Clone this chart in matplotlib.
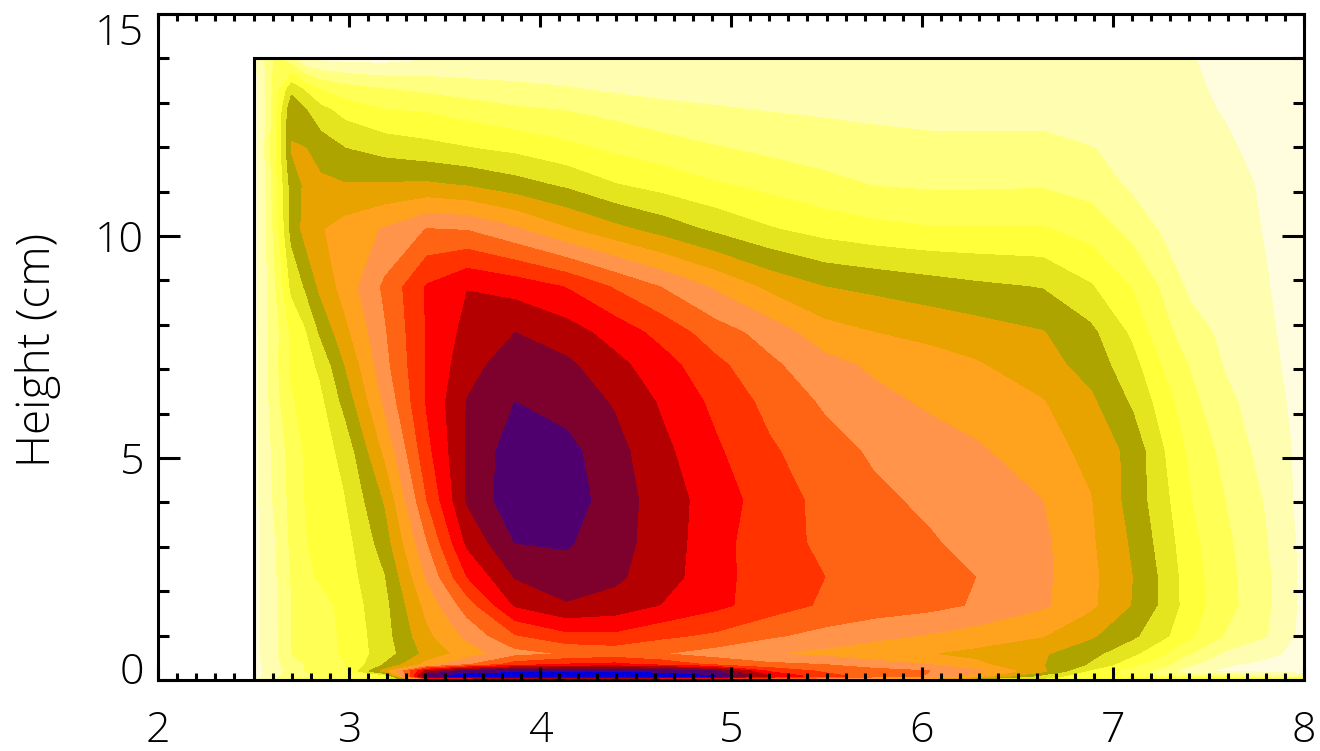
import numpy as np
import matplotlib
matplotlib.use("Agg")
import matplotlib.pyplot as plt
from matplotlib.transforms import ScaledTranslation

plt.rcParams['font.family'] = ['Open Sans', 'DejaVu Sans']
plt.rcParams['font.weight'] = 'light'

radius = [2.5,2.56,2.61,2.70,2.77,2.85,2.98,3.19,3.41,3.62,3.87,4.14,4.39,4.64,4.92,5.20,5.49,5.75,6.04,6.28,6.63,6.88,7.10,7.25,7.40,7.59,7.80,8.0]
height = [0,0.09,0.20,0.34,0.59,1.0,1.69,2.32,3.09,4.05,5.14,6.26,7.09,7.82,8.85,10.14,11.15,11.94,12.84,13.29,14.0]

z00 = [.8,1.5,2.0,3.0,3.2,3.4,4.0,4.3,8.5,8.5,8.5,8.5,8.5,8.5,8.5,8.3,8.0,7.0,6.0,5.0,4.5,4.5,4.5,4.5,4.5,4.5,4.5,4.0]
z01 = [.5,1.1,1.6,2.5,2.8,3.0,3.1,4.0,15.6,16.4,16.5,16.6,16.6,16.4,16.0,13.0,11.3,10.6,9.9,8.5,5.5,4.3,3.9,2.8,2.4,2.3,2.1,1.5]
z02 = [.5,1.1,1.4,2.5,3.0,3.2,3.8,7.4,13.3,15.4,15.7,15.8,15.8,15.6,15.05,11.8,10.8,10.4,10.0,9.2,7.2,4.7,3.45,2.6,1.35,.8,.6,.5]
z03 = [.5,1.2,1.5,2.8,3.0,3.2,3.9,6.1,8.4,9.9,11.5,12.1,12.3,11.7,10.8,10.25,10.0,9.4,9.0,8.25,7.05,5.85,4.2,3.3,2.1,1.1,.7,.5]
z04 = [.5,1.3,1.7,3.0,3.15,3.4,4.2,5.5,7.3,8.45,9.6,10.05,10.3,10.0,9.5,9.0,8.7,8.4,8.0,7.7,7.1,6.3,5.2,4.15,3.0,1.8,1.25,.6]
z05 = [.5,1.4,1.7,3.0,3.2,3.55,4.2,5.6,7.75,9.25,10.9,11.7,11.75,11.2,10.8,10.15,9.65,9.25,8.9,8.55,8.05,7.15,6.2,5.3,4.2,2.9,2.05,.65]
z06 = [.5,1.4,1.75,3.0,3.35,3.55,4.35,5.7,8.35,10.5,13.1,13.9,13.6,12.95,12.25,11.5,10.85,10.55,10.3,9.9,9.15,8.2,6.95,5.85,4.5,3.35,2.2,.7]
z07 = [.5,1.4,1.8,3.05,3.7,4.15,4.5,5.95,9.1,12.0,14.05,14.6,14.2,13.4,12.4,11.35,11.0,10.65,10.3,10.0,9.2,8.25,7.0,5.85,4.45,3.3,2.2,.7]
z08 = [.5,1.45,1.9,3.2,3.95,4.2,4.6,6.5,9.95,13.2,15.0,15.1,14.4,13.5,12.4,11.3,10.85,10.55,10.1,9.7,9.2,8.15,6.85,5.65,4.3,3.2,2.05,.7]
z09 = [.5,1.5,2.1,3.3,4.0,4.35,4.95,7.1,11.0,14.1,15.7,15.5,14.5,13.5,12.5,11.5,10.7,10.2,9.8,9.45,9.0,8.05,6.6,5.4,4.05,2.97,1.9,.6]
z10 = [.5,1.55,2.2,3.4,4.1,4.5,5.3,8.2,11.7,14.1,15.6,15.3,14.35,13.25,12.15,11.15,10.4,9.85,9.5,9.15,8.45,7.7,6.7,5.15,3.8,2.65,1.6,.7]
z11 = [.5,1.6,2.5,3.9,4.26,4.7,6.3,9.2,12.1,14.05,15.0,14.6,13.9,12.85,11.75,10.7,9.85,9.3,8.83,8.5,8.05,7.2,5.85,4.6,3.3,2.25,1.4,.65]
z12 = [.5,1.65,2.6,4.2,4.55,5.2,7.0,9.7,12.1,13.6,14.6,14.2,13.3,12.4,11.25,10.2,9.35,8.8,8.45,8.1,7.4,6.6,5.35,4.0,2.95,1.9,1.25,.6]
z13 = [.5,1.7,2.5,4.2,4.8,6.1,7.7,9.9,12.1,13.3,14.0,13.45,12.6,11.65,10.45,9.6,8.4,8.0,7.7,7.45,7.05,6.25,4.8,3.4,2.45,1.75,1.15,.6]
z14 = [.5,1.7,2.8,5.2,6.05,7.2,8.4,10.2,12.1,12.97,12.6,11.95,10.9,9.95,8.85,7.75,7.0,6.75,6.45,6.2,5.95,5.1,3.95,2.9,1.8,1.5,1.05,.55]
z15 = [.5,1.7,3.2,6.3,7.3,7.9,8.4,9.1,10.05,9.95,9.15,8.1,7.3,6.6,5.8,5.1,4.6,4.3,4.1,4.1,4.1,3.6,2.65,1.9,1.65,1.35,.95,.5]
z16 = [.5,1.8,3.5,6.4,7.15,7.2,7.05,7.1,7.15,6.9,6.4,5.8,5.05,4.6,4.1,3.7,3.3,2.95,2.85,2.85,2.9,2.6,1.8,1.55,1.35,1.25,.9,.5]
z17 = [.5,2.0,3.6,7.05,7.05,6.6,6.05,5.65,5.36,5.1,4.8,4.3,3.85,3.5,3.1,2.8,2.55,2.4,2.3,2.3,2.3,2.05,1.7,1.45,1.3,1.1,.8,.5]
z18 = [.5,1.8,3.5,6.8,6.05,5.3,4.6,4.0,3.88,3.55,3.15,2.95,2.65,2.3,2.1,1.95,1.85,1.75,1.65,1.65,1.65,1.5,1.35,1.25,1.15,.95,.7,.5]
z19 = [.5,1.8,3.3,5.7,4.9,4.0,3.45,3.05,2.78,2.5,2.3,2.1,1.85,1.7,1.6,1.5,1.45,1.4,1.4,1.4,1.4,1.35,1.25,1.15,1.1,.9,.65,.5]
z20 = [.6,2.0,3.1,2.4,.95,.75,.6,.6,.9,1.05,1.1,1.15,1.2,1.2,1.2,1.2,1.2,1.2,1.2,1.2,1.2,1.2,1.15,1.1,1.02,.9,.7,.5]

band_colors = ['#FFFDDD','#FFFDB0','#FFFF80','#FFFF55','#FFFF3A','#E5E51F','#AEA400','#E9A300',
               '#FFA31E','#FF944A','#FF6414','#FF3200','#FF0000','#B40000','#7D002D','#50006E','#0000DC']
levels = list(range(18))

x_labels = ['2','3','4','5','6','7','8']
y_labels = ['0','5','10','15']

Z = np.array([z00,z01,z02,z03,z04,z05,z06,z07,z08,z09,z10,z11,z12,z13,z14,z15,z16,z17,z18,z19,z20])

W, H = 1320, 751
fig = plt.figure(figsize=(W/100, H/100), dpi=100)
ax = fig.add_axes([158/W, 1-680/H, (1304-158)/W, (680-14)/H])
cs = ax.contourf(radius, height, Z, levels=levels, colors=band_colors)
cs.set_edgecolor('face')
cs.set_linewidth(0.4)
ax.plot([radius[0], radius[0], radius[-1]], [height[0], height[-1], height[-1]], color='k', lw=2.2, zorder=3, solid_joinstyle='miter')

ax.set_xlim(2, 8)
ax.set_ylim(0, 15)
ax.set_xticks(range(2, 9))
ax.set_xticklabels(x_labels)
ax.set_yticks([0, 5, 10, 15])
ax.set_yticklabels(y_labels)
ax.set_xticks(np.arange(20, 81)/10, minor=True)
ax.set_yticks(np.arange(0, 16), minor=True)
ax.tick_params(axis='x', which='major', direction='in', length=9.5, width=2.2, top=True, bottom=True,
               labelsize=31, pad=21, color='k')
ax.tick_params(axis='x', which='minor', direction='in', length=4.8, width=2.2, top=True, bottom=True)
ax.tick_params(axis='y', which='major', direction='in', length=16, width=2.2, left=True, right=True,
               labelsize=31, pad=10, color='k')
ax.tick_params(axis='y', which='minor', direction='in', length=8, width=2.2, left=True, right=True)
ylabs = ax.get_yticklabels()
ylabs[0].set_transform(ylabs[0].get_transform() + ScaledTranslation(0, 12/100, fig.dpi_scale_trans))
ylabs[-1].set_transform(ylabs[-1].get_transform() + ScaledTranslation(0, -15/100, fig.dpi_scale_trans))
for s in ax.spines.values():
    s.set_linewidth(2.2)
    s.set_zorder(5)
ax.set_axisbelow(False)
fig.text(38/W, 1-350/H, 'Height (cm)', rotation=90, ha='center', va='center', fontsize=33, color='k')
fig.savefig('out.png', dpi=100)
